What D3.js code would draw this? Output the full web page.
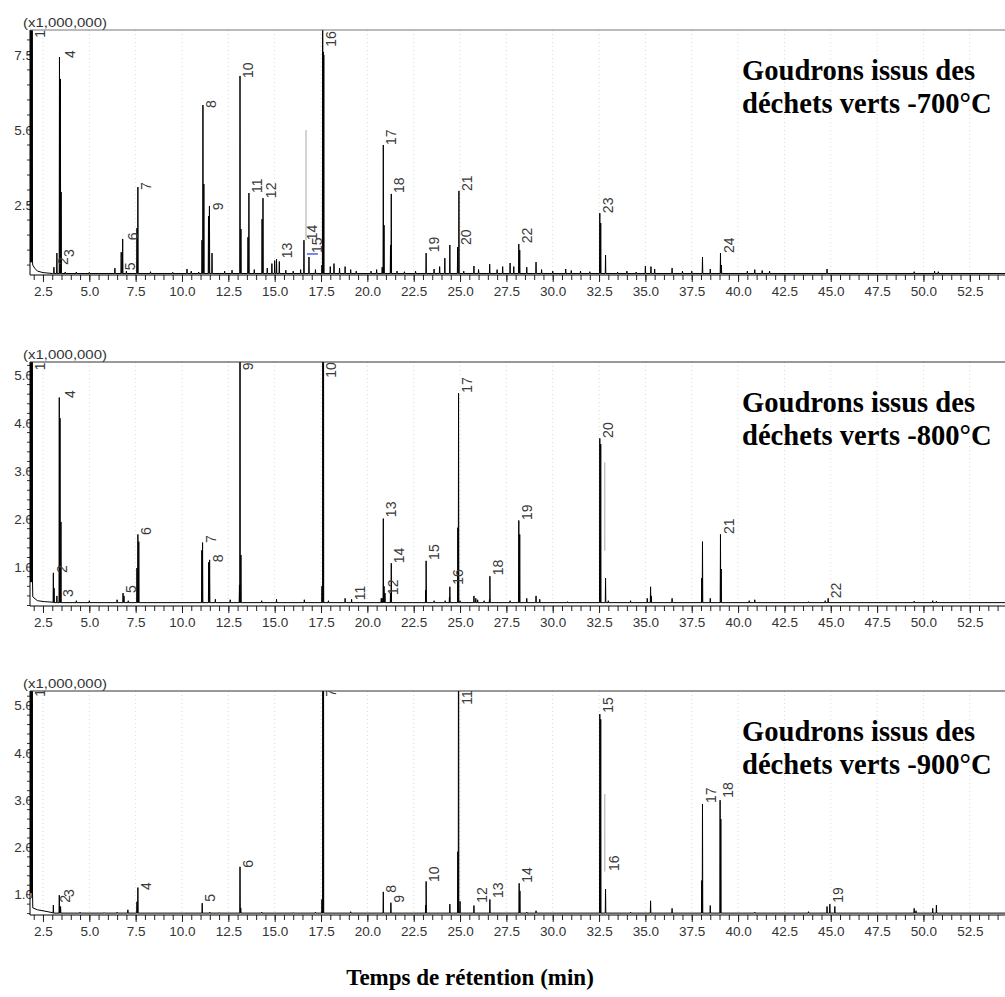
<!DOCTYPE html>
<html>
<head>
<meta charset="utf-8">
<script src="https://cdn.jsdelivr.net/npm/d3@7"></script>
<style>
  body { margin: 0; background: #fff; }
  svg { display: block; }
</style>
</head>
<body>
<svg id="chart" width="1005" height="997"></svg>
<script>
// ---- data (time in min, signal x1,000,000) ----
const xTickLabels = [2.5, 5.0, 7.5, 10.0, 12.5, 15.0, 17.5, 20.0, 22.5, 25.0, 27.5,
                     30.0, 32.5, 35.0, 37.5, 40.0, 42.5, 45.0, 47.5, 50.0, 52.5];
const yTicks700 = [2.5, 5.0, 7.5];
const yTicks800 = [1.0, 2.0, 3.0, 4.0, 5.0];
const yTicks900 = [1.0, 2.0, 3.0, 4.0, 5.0];

const titles = ["-700°C", "-800°C", "-900°C"];

// solvent tail at the start of each run
const tail700 = [[1.78, 0.6], [1.95, 0.5], [2.05, 0.4], [2.2, 0.3], [2.5, 0.25], [3.0, 0.22]];
const tail800 = [[1.78, 0.69], [1.95, 0.38], [2.2, 0.3], [2.6, 0.28], [3.0, 0.27]];
const tail900 = [[1.78, 1.04], [1.95, 0.72], [2.2, 0.68], [2.5, 0.66], [3.0, 0.62]];

// main peaks [time, height] (12 = off scale)
const peaks700 = [
  [1.84, 12], [1.88, 12], [1.92, 12],
  [3.09, 0.43], [3.25, 0.9], [3.39, 7.43], [3.44, 6.7], [3.48, 2.93],
  [6.38, 0.4], [6.72, 0.93], [6.8, 1.37],
  [7.57, 1.73], [7.62, 3.1],
  [11.08, 1.33], [11.13, 5.83], [11.18, 3.2],
  [11.43, 2.13], [11.48, 2.47], [11.62, 0.9],
  [13.13, 6.8], [13.18, 1.7],
  [13.56, 1.43], [13.61, 2.9],
  [14.32, 2.03], [14.37, 2.73],
  [16.58, 1.33], [16.85, 0.77],
  [17.55, 0.5], [17.59, 12], [17.62, 7.6], [17.65, 7.5],
  [20.8, 0.43], [20.86, 4.5], [20.9, 1.83],
  [21.25, 1.17], [21.29, 2.87],
  [23.17, 0.9],
  [24.18, 0.73], [24.45, 1.17], [24.87, 1.1], [24.94, 2.97],
  [28.17, 1.2], [28.22, 1.0],
  [32.54, 2.23], [32.59, 1.9], [32.85, 0.83],
  [38.08, 0.77], [39.05, 0.9], [39.1, 0.5]
];
const peaks800 = [
  [1.76, 0.69], [1.84, 12], [1.88, 12], [1.92, 12],
  [3.06, 0.88], [3.1, 0.56], [3.25, 0.4], [3.38, 4.53], [3.42, 4.1], [3.47, 1.94],
  [6.82, 0.46], [6.87, 0.4],
  [7.57, 0.98], [7.62, 1.68], [7.67, 1.53],
  [11.07, 1.35], [11.11, 1.51],
  [11.44, 1.1], [11.49, 1.15],
  [13.1, 0.63], [13.13, 12], [13.18, 1.25],
  [17.55, 0.6], [17.6, 12], [17.63, 12],
  [19.15, 0.33],
  [20.8, 0.35], [20.86, 2.01], [20.9, 0.6], [20.95, 0.46],
  [21.25, 0.46], [21.29, 1.08],
  [23.15, 0.52], [23.17, 1.13],
  [24.43, 0.38], [24.45, 0.59],
  [24.88, 1.82], [24.92, 4.62], [25.0, 0.3],
  [26.59, 0.33], [26.61, 0.81],
  [28.17, 1.97], [28.22, 1.68],
  [32.54, 3.68], [32.59, 3.56], [32.85, 0.77],
  [35.28, 0.59], [35.32, 0.4],
  [38.04, 0.77], [38.08, 1.53],
  [39.05, 1.68], [39.09, 0.96],
  [44.86, 0.35]
];
const peaks900 = [
  [1.76, 1.04], [1.84, 12], [1.88, 12], [1.92, 12],
  [3.06, 0.78], [3.38, 0.99], [3.45, 0.75],
  [7.57, 0.85], [7.62, 1.15],
  [11.09, 0.82],
  [13.13, 1.59], [13.17, 0.72],
  [17.55, 0.9], [17.6, 12], [17.63, 12],
  [20.86, 1.06], [21.27, 0.83],
  [23.15, 0.78], [23.17, 1.28],
  [24.45, 0.8],
  [24.88, 1.91], [24.92, 12], [25.0, 0.86],
  [25.75, 0.77], [26.61, 0.9],
  [28.19, 1.24], [28.23, 1.08],
  [32.54, 4.82], [32.59, 4.71], [32.85, 1.12],
  [35.28, 0.87],
  [38.04, 1.3], [38.08, 2.92], [38.5, 0.77],
  [39.03, 3.0], [39.07, 2.6],
  [44.8, 0.75], [44.95, 0.8], [45.22, 0.75]
];

// small baseline bumps
const noise700 = [
  [3.7, 0.27], [4.3, 0.27], [5.0, 0.26], [7.0, 0.3], [8.3, 0.28], [9.5, 0.26], [10.27, 0.37],
  [10.5, 0.3], [10.9, 0.27], [12.3, 0.3], [12.7, 0.33], [13.9, 0.35], [14.6, 0.4],
  [14.85, 0.55], [15.0, 0.65], [15.1, 0.7], [15.25, 0.62], [15.6, 0.33], [16.0, 0.3], [16.4, 0.35],
  [17.2, 0.35], [18.0, 0.45], [18.2, 0.55], [18.5, 0.4], [18.8, 0.45], [19.1, 0.35], [19.4, 0.3],
  [20.2, 0.3], [20.5, 0.35], [21.6, 0.3], [22.0, 0.28], [22.6, 0.3], [23.6, 0.37], [23.9, 0.45],
  [25.2, 0.3], [25.75, 0.47], [26.0, 0.35], [26.6, 0.53], [27.0, 0.35], [27.3, 0.45], [27.7, 0.57],
  [27.9, 0.45], [28.6, 0.43], [29.1, 0.6], [29.4, 0.35], [30.0, 0.3], [30.7, 0.37], [31.0, 0.32],
  [31.5, 0.3], [32.0, 0.28], [33.5, 0.27], [34.0, 0.3], [34.5, 0.27], [35.0, 0.47], [35.3, 0.45],
  [35.5, 0.37], [36.44, 0.4], [37.0, 0.3], [37.5, 0.3], [38.5, 0.37], [40.5, 0.3], [40.9, 0.35],
  [41.3, 0.32], [41.7, 0.3], [44.8, 0.37], [49.5, 0.28], [50.6, 0.3], [50.8, 0.28]
];
const noise800 = [
  [4.3, 0.3], [5.0, 0.3], [6.5, 0.32], [7.1, 0.3], [11.8, 0.33], [12.6, 0.32], [14.3, 0.3],
  [15.1, 0.33], [16.6, 0.32], [17.9, 0.3], [18.8, 0.35], [20.75, 0.35], [23.6, 0.3], [24.2, 0.3],
  [25.75, 0.4], [25.85, 0.35], [25.95, 0.32], [26.3, 0.3], [27.7, 0.3], [28.6, 0.35], [29.1, 0.4],
  [29.3, 0.33], [30.8, 0.28], [33.0, 0.3], [34.2, 0.3], [35.1, 0.35], [36.44, 0.35], [38.5, 0.35],
  [40.6, 0.3], [40.9, 0.32], [43.8, 0.28], [44.7, 0.3], [49.5, 0.29], [50.5, 0.3], [50.7, 0.29]
];
const noise900 = [
  [4.5, 0.63], [5.8, 0.62], [6.5, 0.63], [7.08, 0.68], [11.5, 0.63], [12.0, 0.62], [14.3, 0.63],
  [16.0, 0.62], [17.2, 0.63], [19.1, 0.64], [28.6, 0.63], [29.1, 0.66], [34.2, 0.63],
  [36.44, 0.71], [40.9, 0.63], [43.8, 0.64], [49.5, 0.71], [49.6, 0.66], [50.5, 0.71], [50.7, 0.78]
];

// peak numbers [label, time, height of label foot]
const labels700 = [
  ["1", 1.9, 8.07], ["2", 3.15, 0.5], ["3", 3.47, 0.77], ["4", 3.52, 7.4], ["5", 6.76, 0.33],
  ["6", 6.92, 1.33], ["7", 7.62, 3.0], ["8", 11.13, 5.73], ["9", 11.48, 2.33], ["10", 13.13, 6.73],
  ["11", 13.61, 2.9], ["12", 14.37, 2.73], ["13", 15.23, 0.73], ["14", 16.58, 1.33], ["15", 16.85, 0.9],
  ["16", 17.6, 7.77], ["17", 20.86, 4.5], ["18", 21.29, 2.9], ["19", 23.17, 0.93], ["20", 24.87, 1.17],
  ["21", 24.94, 2.97], ["22", 28.17, 1.23], ["23", 32.54, 2.23], ["24", 39.05, 0.9]
];
const labels800 = [
  ["1", 1.9, 5.1], ["2", 3.09, 0.875], ["3", 3.42, 0.375], ["4", 3.52, 4.52], ["5", 6.82, 0.46],
  ["6", 7.62, 1.67], ["7", 11.11, 1.5], ["8", 11.49, 1.1], ["9", 13.13, 5.1], ["10", 17.6, 4.94],
  ["11", 19.15, 0.31], ["12", 20.95, 0.42], ["13", 20.86, 2.04], ["14", 21.29, 1.08], ["15", 23.17, 1.15],
  ["16", 24.45, 0.63], ["17", 24.92, 4.63], ["18", 26.61, 0.83], ["19", 28.17, 1.98], ["20", 32.54, 3.69],
  ["21", 39.05, 1.69], ["22", 44.86, 0.35]
];
const labels900 = [
  ["1", 1.9, 5.19], ["2", 3.26, 0.83], ["3", 3.47, 0.95], ["4", 7.62, 1.1], ["5", 11.09, 0.85],
  ["6", 13.13, 1.57], ["7", 17.6, 5.19], ["8", 20.86, 1.04], ["9", 21.27, 0.83], ["10", 23.17, 1.27],
  ["11", 24.92, 5.02], ["12", 25.75, 0.83], ["13", 26.61, 0.93], ["14", 28.19, 1.25], ["15", 32.54, 4.85],
  ["16", 32.85, 1.5], ["17", 38.08, 2.94], ["18", 39.03, 3.05], ["19", 44.95, 0.83]
];

// integration markers [time, from, to]
const marks700 = [[16.69, 1.33, 5.0]];
const marks800 = [[32.81, 1.34, 3.18]];
const marks900 = [[32.81, 1.49, 3.13]];
const blue700 = [[16.74, 17.33, 0.87]];

// ---- drawing ----
const svg = d3.select("#chart");
const x = d3.scaleLinear().domain([1.8, 54.4]).range([30, 1005]);

const panels = [
  { top: 30,  bottom: 275, dom: [0.17, 8.33], base: 0.22, yTicks: yTicks700, minor: 0.5,
    tail: tail700, peaks: peaks700, noise: noise700, labels: labels700, marks: marks700, blue: blue700 },
  { top: 362, bottom: 606, dom: [0.19, 5.27], base: 0.26, yTicks: yTicks800, minor: 0.2,
    tail: tail800, peaks: peaks800, noise: noise800, labels: labels800, marks: marks800, blue: [] },
  { top: 691, bottom: 915, dom: [0.57, 5.31], base: 0.61, yTicks: yTicks900, minor: 0.2,
    tail: tail900, peaks: peaks900, noise: noise900, labels: labels900, marks: marks900, blue: [] }
];

function buildTrace(p) {
  const lastTail = p.tail[p.tail.length - 1][0];
  const baseAt = t => {
    if (t >= lastTail) return p.base;
    let b = p.tail[0][1];
    p.tail.forEach(d => { if (d[0] <= t) b = d[1]; });
    return b;
  };
  const pts = p.tail.slice();
  p.peaks.concat(p.noise).forEach(([t, h]) => {
    const b = baseAt(t);
    pts.push([t - 0.015, b], [t, h], [t + 0.015, b]);
  });
  pts.push([55, p.base]);
  pts.sort((a, b) => a[0] - b[0]);
  return pts;
}

panels.forEach((p, i) => {
  const y = d3.scaleLinear().domain(p.dom).range([p.bottom, p.top]);
  const g = svg.append("g");

  const clipId = "clip" + i;
  svg.append("clipPath").attr("id", clipId)
    .append("rect").attr("x", 30).attr("y", p.top).attr("width", 980).attr("height", p.bottom - p.top);

  // faint dotted grid
  g.selectAll(".grid").data(xTickLabels).enter().append("line")
    .attr("x1", d => x(d)).attr("x2", d => x(d))
    .attr("y1", p.top).attr("y2", p.bottom)
    .attr("stroke", "#d8d8d8").attr("stroke-dasharray", "1,3");

  // y tick labels (drawn under the axis line)
  g.selectAll(".ylab").data(p.yTicks).enter().append("text")
    .attr("x", 33).attr("y", d => y(d)).attr("dy", "0.35em")
    .attr("text-anchor", "end")
    .style("font", "13.5px 'Liberation Sans', Arial, sans-serif").style("fill", "#333")
    .text(d => d3.format(".1f")(d));

  // y ticks
  const yMinor = d3.range(Math.ceil(p.dom[0] / p.minor) * p.minor, p.dom[1], p.minor);
  g.selectAll(".ymin").data(yMinor).enter().append("line")
    .attr("x1", 27).attr("x2", 30).attr("y1", d => y(d)).attr("y2", d => y(d))
    .attr("stroke", "#333");

  // trace
  const line = d3.line().x(d => x(d[0])).y(d => y(d[1]));
  g.append("path").datum(buildTrace(p))
    .attr("clip-path", `url(#${clipId})`)
    .attr("d", line).attr("fill", "none").attr("stroke", "#000").attr("stroke-width", 1);

  // markers
  g.selectAll(".mark").data(p.marks).enter().append("line")
    .attr("x1", d => x(d[0])).attr("x2", d => x(d[0]))
    .attr("y1", d => y(d[1])).attr("y2", d => y(d[2]))
    .attr("stroke", "#a8a8a8").attr("stroke-width", 1);
  g.selectAll(".blue").data(p.blue).enter().append("line")
    .attr("x1", d => x(d[0])).attr("x2", d => x(d[1]))
    .attr("y1", d => y(d[2])).attr("y2", d => y(d[2]))
    .attr("stroke", "#2233ee").attr("stroke-width", 1.2);

  // peak numbers
  g.append("g").attr("clip-path", `url(#${clipId})`)
    .selectAll("text").data(p.labels).enter().append("text")
    .attr("transform", d => `translate(${x(d[1]) + 3},${y(d[2])}) rotate(-90)`)
    .attr("dy", "0.72em")
    .style("font", "14px 'Liberation Sans', Arial, sans-serif").style("fill", "#3a3a3a")
    .text(d => d[0]);

  // frame
  g.append("line").attr("x1", 30).attr("x2", 1005).attr("y1", p.top).attr("y2", p.top)
    .attr("stroke", i === 0 ? "#777" : "#333");
  g.append("line").attr("x1", 30).attr("x2", 30).attr("y1", p.top).attr("y2", p.bottom)
    .attr("stroke", "#000");

  // x axis
  const xAxis = d3.axisBottom(x)
    .tickValues(d3.range(2.0, 54.6, 0.5))
    .tickSize(5).tickFormat("");
  const ax = g.append("g").attr("transform", `translate(0,${p.bottom})`).call(xAxis);
  ax.select(".domain").remove();
  ax.selectAll("line").attr("stroke", "#222");
  const axMaj = g.append("g").attr("transform", `translate(0,${p.bottom})`)
    .call(d3.axisBottom(x).tickValues(xTickLabels).tickSize(7).tickPadding(4).tickFormat(d3.format(".1f")));
  axMaj.select(".domain").remove();
  axMaj.selectAll("line").attr("stroke", "#222");
  axMaj.selectAll("text").style("font", "13.5px 'Liberation Sans', Arial, sans-serif").style("fill", "#333");
  g.append("line").attr("x1", 30).attr("x2", 1005).attr("y1", p.bottom).attr("y2", p.bottom)
    .attr("stroke", "#000");

  // scale factor
  g.append("text").attr("x", 23).attr("y", p.top - 3)
    .attr("textLength", 84).attr("lengthAdjust", "spacingAndGlyphs")
    .style("font", "13px 'Liberation Sans', Arial, sans-serif").style("fill", "#333")
    .text("(x1,000,000)");

  // sample title
  const tt = g.append("text").attr("x", 742).attr("y", p.top + 50)
    .style("font", "bold 28.6px 'Liberation Serif', 'Times New Roman', serif").style("fill", "#000");
  tt.append("tspan").attr("x", 742).text("Goudrons issus des");
  tt.append("tspan").attr("x", 742).attr("dy", 33).text("déchets verts " + titles[i]);
});

svg.append("text").attr("x", 470).attr("y", 985).attr("text-anchor", "middle")
  .style("font", "bold 23px 'Liberation Serif', 'Times New Roman', serif").style("fill", "#000")
  .text("Temps de rétention (min)");
</script>
</body>
</html>
